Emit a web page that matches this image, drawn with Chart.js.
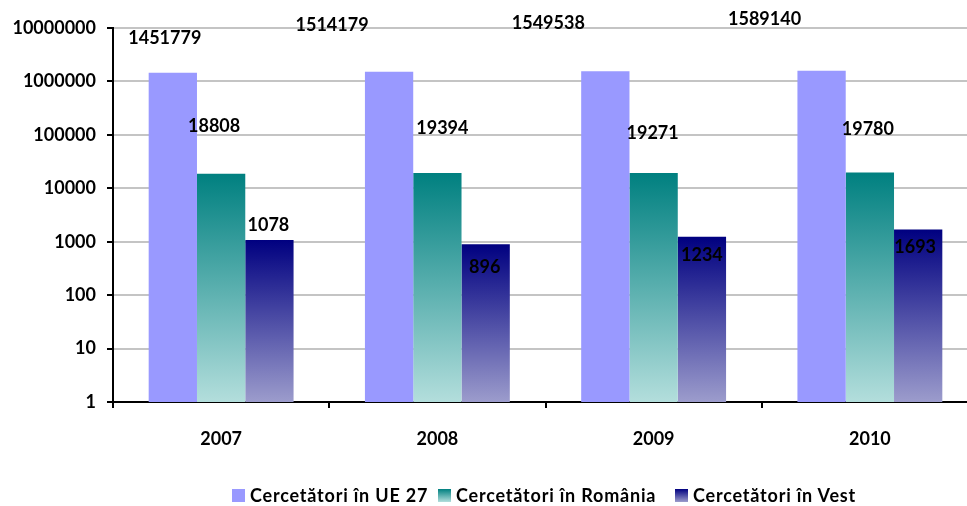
<!DOCTYPE html>
<html>
<head>
<meta charset="utf-8">
<script src="https://cdn.jsdelivr.net/npm/chart.js@4.4.1/dist/chart.umd.min.js"></script>
<style>
    html, body { margin: 0; padding: 0; background: #fff; overflow: hidden; }
    #wrap { position: relative; width: 978px; height: 506px; }
    #legend { position: absolute; left: 0; top: 485px; width: 978px; height: 20px; }
    #legend .item {
        position: absolute; top: 0; display: flex; align-items: center; height: 20px;
        font: bold 18px Lato, sans-serif; letter-spacing: 0.8px; color: #000; white-space: nowrap;
    }
    #legend .box { width: 13px; height: 13px; margin-right: 5px; }
</style>
</head>
<body>
<div id="wrap">
    <canvas id="researchers-chart" width="978" height="506"></canvas>
    <div id="legend"></div>
</div>
<script>
// --- Data ---
const years = ['2007', '2008', '2009', '2010'];
const seriesNames = ['Cercetători în UE 27', 'Cercetători în România', 'Cercetători în Vest'];
const ue27 = [1451779, 1514179, 1549538, 1589140];
const romania = [18808, 19394, 19271, 19780];
const vest = [1078, 896, 1234, 1693];
const yTicks = [1, 10, 100, 1000, 10000, 100000, 1000000, 10000000];

// where each value label sits, relative to the top centre of its bar (px)
const labelNudge = [
    [[-8, -35], [-57, -47], [-57, -48], [-57, -51]],
    [[-7, -47], [5, -45], [-1, -40], [-2, -43]],
    [[-1, -15], [-1, 23], [0, 18], [-3, 18]]
];
// left edge of each legend entry
const legendLeft = [232, 438, 675];

const FONT = 'Lato, sans-serif';

// vertical fade from the bar top down to the axis
function barFade(topColor, bottomColor) {
    return (c) => {
        const chart = c.chart;
        if (!chart.chartArea || c.raw === undefined) return topColor;
        const y = chart.scales.y;
        const top = y.getPixelForValue(c.raw);
        const bottom = y.getPixelForValue(1);
        const g = chart.ctx.createLinearGradient(0, top, 0, bottom);
        g.addColorStop(0, topColor);
        g.addColorStop(1, bottomColor);
        return g;
    };
}

const swatches = [
    '#9999FF',
    'linear-gradient(#008080, #B3DEDC)',
    'linear-gradient(#000080, #9C9CCC)'
];

const valueLabels = {
    id: 'valueLabels',
    afterDatasetsDraw(chart) {
        const ctx = chart.ctx;
        ctx.save();
        ctx.font = `bold 18px ${FONT}`;
        ctx.fillStyle = '#000';
        ctx.textAlign = 'center';
        ctx.textBaseline = 'middle';
        chart.data.datasets.forEach((ds, di) => {
            chart.getDatasetMeta(di).data.forEach((bar, i) => {
                const [dx, dy] = labelNudge[di][i];
                ctx.fillText(String(ds.data[i]), bar.x + dx, bar.y + dy);
            });
        });
        ctx.restore();
    }
};

new Chart(document.getElementById('researchers-chart'), {
    type: 'bar',
    data: {
        labels: years,
        datasets: [
            { label: seriesNames[0], data: ue27, backgroundColor: '#9999FF' },
            { label: seriesNames[1], data: romania, backgroundColor: barFade('#008080', '#B3DEDC') },
            { label: seriesNames[2], data: vest, backgroundColor: barFade('#000080', '#9C9CCC') }
        ]
    },
    options: {
        responsive: false,
        animation: false,
        layout: { padding: { top: 28, left: 0, right: 0, bottom: 0 } },
        datasets: { bar: { categoryPercentage: 0.67, barPercentage: 1, borderWidth: 0 } },
        plugins: {
            legend: { display: false },
            tooltip: { enabled: false }
        },
        scales: {
            x: {
                grid: {
                    display: true, drawOnChartArea: false, offset: true,
                    tickLength: 6, color: '#000', lineWidth: 2
                },
                border: { color: '#000', width: 2 },
                ticks: { color: '#000', font: { family: FONT, size: 18, weight: 'bold' }, padding: 20 },
                afterFit: (s) => { s.height = 104; }
            },
            y: {
                type: 'logarithmic',
                min: 1,
                max: 10000000,
                afterBuildTicks: (s) => { s.ticks = yTicks.map(v => ({ value: v })); },
                grid: { color: '#C4C4C4', lineWidth: 2, tickLength: 6, tickColor: '#000' },
                border: { color: '#000', width: 2 },
                ticks: {
                    color: '#000', padding: 11,
                    font: { family: FONT, size: 18, weight: 'bold' },
                    callback: (v) => String(v)
                },
                afterFit: (s) => { s.width = 113; }
            }
        }
    },
    plugins: [valueLabels]
});

// legend row under the plot
const legendEl = document.getElementById('legend');
seriesNames.forEach((name, i) => {
    const item = document.createElement('div');
    item.className = 'item';
    item.style.left = legendLeft[i] + 'px';
    const box = document.createElement('span');
    box.className = 'box';
    box.style.background = swatches[i];
    const text = document.createElement('span');
    text.textContent = name;
    item.appendChild(box);
    item.appendChild(text);
    legendEl.appendChild(item);
});
</script>
</body>
</html>
